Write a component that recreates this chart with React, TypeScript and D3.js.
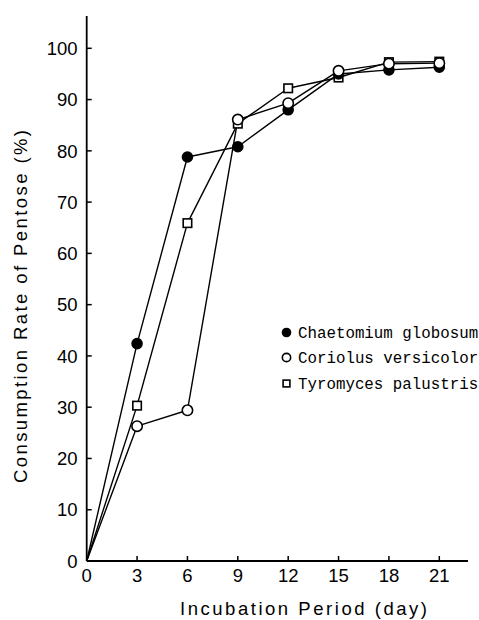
import React from "react";
import * as d3 from "d3";

// Incubation days
const days = [0, 3, 6, 9, 12, 15, 18, 21];

// Consumption rate of pentose (%) per fungus
const chaetomium = [0, 42.4, 78.8, 80.8, 88.0, 95.0, 95.8, 96.3];
const coriolus = [0, 26.3, 29.4, 86.1, 89.3, 95.6, 97.0, 97.1];
const tyromyces = [0, 30.3, 65.9, 85.3, 92.2, 94.3, 97.3, 97.4];

const seriesNames = ["Chaetomium globosum", "Coriolus versicolor", "Tyromyces palustris"];
const markerKinds = ["filled", "circle", "square"];

const xTicks = [0, 3, 6, 9, 12, 15, 18, 21];
const yTicks = [0, 10, 20, 30, 40, 50, 60, 70, 80, 90, 100];

const W = 479;
const H = 620;

export default function App() {
  const x = d3.scaleLinear().domain([0, 21]).range([86.7, 439.3]);
  const y = d3.scaleLinear().domain([0, 100]).range([561, 48.3]);
  const xEnd = x.invert(468);
  const yTop = y.invert(16);

  const series = [chaetomium, coriolus, tyromyces];
  const line = d3
    .line<[number, number]>()
    .x((d) => x(d[0]))
    .y((d) => y(d[1]));

  const tickFont = "'Liberation Sans', Arial, sans-serif";
  const monoFont = "'Liberation Mono', 'DejaVu Sans Mono', monospace";

  const marker = (kind: string, cx: number, cy: number, key: string, scale = 1) => {
    if (kind === "square") {
      const s = 8.5 * scale;
      return (
        <rect key={key} x={cx - s / 2} y={cy - s / 2} width={s} height={s} fill="#fff" stroke="#000" strokeWidth={1.6} />
      );
    }
    return (
      <circle
        key={key}
        cx={cx}
        cy={cy}
        r={(kind === "filled" ? 5 : 5.2) * scale}
        fill={kind === "filled" ? "#000" : "#fff"}
        stroke="#000"
        strokeWidth={1.6}
      />
    );
  };

  const legendX = 286.5;
  const legendY = [332.5, 357.5, 383.5];

  return (
    <svg
      width={W}
      height={H}
      style={{ position: "absolute", left: 0, top: 0, background: "#fff" }}
      xmlns="http://www.w3.org/2000/svg"
    >
      <rect width={W} height={H} fill="#fff" />
      {/* axes */}
      <line x1={x(0)} x2={x(0)} y1={y(yTop)} y2={y(0)} stroke="#000" strokeWidth={1.8} />
      <line x1={x(0)} x2={x(xEnd)} y1={y(0)} y2={y(0)} stroke="#000" strokeWidth={1.8} />
      {yTicks.map((t) => (
        <g key={"yt" + t}>
          {t > 0 && <line x1={x(0)} x2={x(0) + 5} y1={y(t)} y2={y(t)} stroke="#000" strokeWidth={1.5} />}
          <text
            x={77.5}
            y={y(t)}
            dy="0.36em"
            textAnchor="end"
            fontFamily={tickFont}
            fontSize={18.5}
            fill="#000"
          >
            {t}
          </text>
        </g>
      ))}
      {xTicks.map((t) => (
        <g key={"xt" + t}>
          {t > 0 && <line x1={x(t)} x2={x(t)} y1={y(0)} y2={y(0) - 5} stroke="#000" strokeWidth={1.5} />}
          <text x={x(t)} y={582} textAnchor="middle" fontFamily={tickFont} fontSize={18.5} fill="#000">
            {t}
          </text>
        </g>
      ))}
      <text
        x={180}
        y={615}
        fontFamily={tickFont}
        fontSize={18.5}
        textLength={247}
        lengthAdjust="spacing"
        fill="#000"
      >
        Incubation Period (day)
      </text>
      <text
        transform={`translate(27, 483) rotate(-90)`}
        fontFamily={tickFont}
        fontSize={18.5}
        textLength={353}
        lengthAdjust="spacing"
        fill="#000"
      >
        Consumption Rate of Pentose (%)
      </text>

      {/* series lines */}
      {series.map((vals, i) => (
        <path
          key={"l" + i}
          d={line(days.map((d, j) => [d, vals[j]] as [number, number])) || ""}
          fill="none"
          stroke="#000"
          strokeWidth={1.4}
          strokeLinejoin="round"
        />
      ))}
      {/* markers */}
      {[2, 0, 1].map((i) =>
        days.map((d, j) => (j === 0 ? null : marker(markerKinds[i], x(d), y(series[i][j]), `m${i}-${j}`)))
      )}

      {/* legend */}
      {seriesNames.map((name, i) => (
        <g key={"lg" + i}>
          {marker(markerKinds[i], legendX, legendY[i], "lgm" + i, 0.8)}
          <text
            x={298}
            y={legendY[i]}
            dy="0.33em"
            fontFamily={monoFont}
            fontSize={15.8}
            fill="#000"
          >
            {name}
          </text>
        </g>
      ))}
    </svg>
  );
}
